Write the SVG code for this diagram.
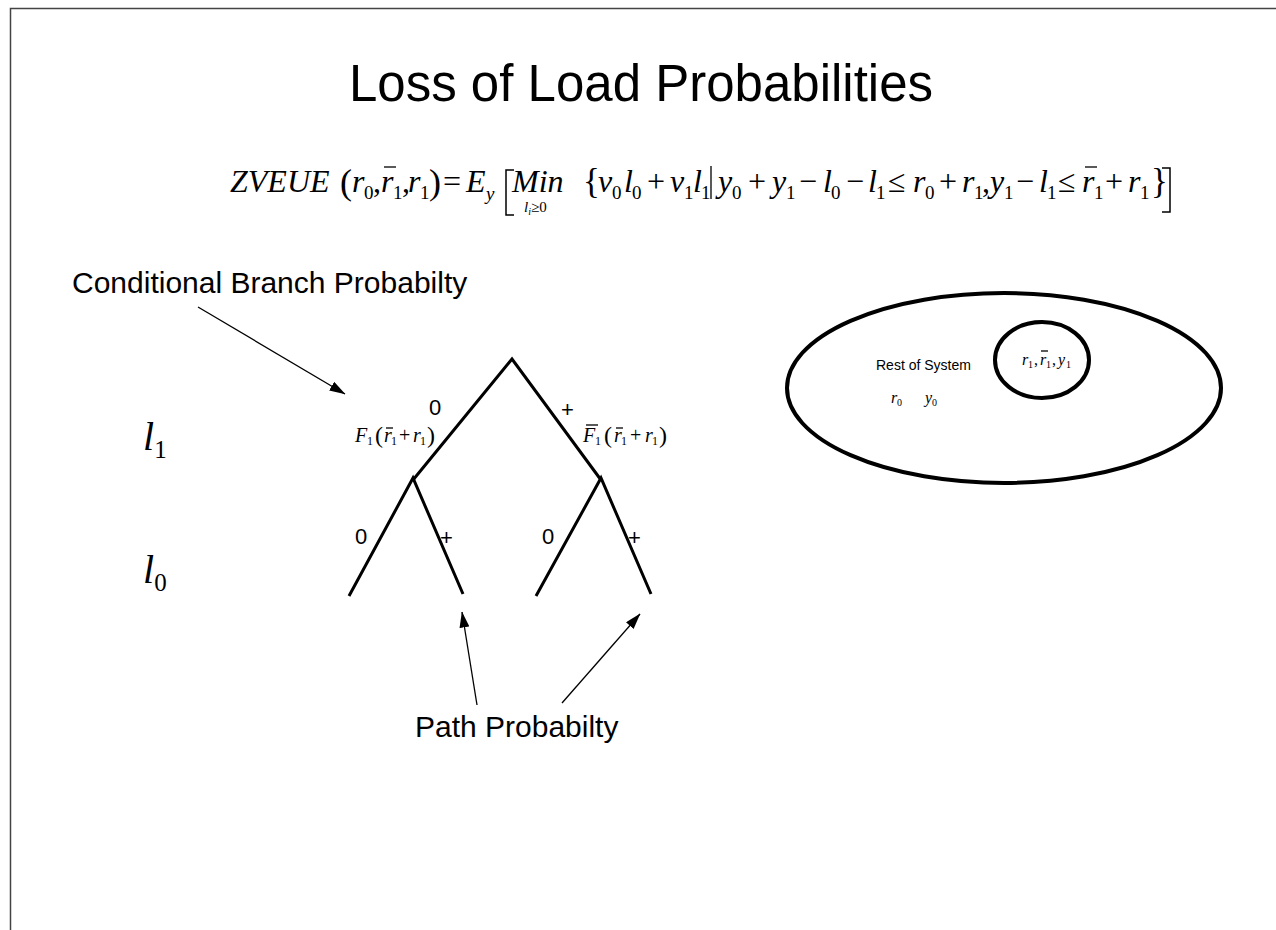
<svg xmlns="http://www.w3.org/2000/svg" width="1276" height="930" viewBox="0 0 1276 930">
<style>
.sans{font-family:"Liberation Sans",Arial,sans-serif;fill:#000}
.ser{font-family:"Liberation Serif","Times New Roman",serif;fill:#000}
.it{font-style:italic}
.tree{stroke:#000;stroke-width:3;fill:none;stroke-linecap:butt}
.conn{stroke:#000;stroke-width:1.3;fill:none}
.bar{stroke:#000;stroke-width:1.3}
</style>
<defs>
<marker id="ah" viewBox="0 0 16 10" refX="15.5" refY="5" markerWidth="16" markerHeight="10" markerUnits="userSpaceOnUse" orient="auto">
<path d="M0,0 L16,5 L0,10 z" fill="#000"/>
</marker>
</defs>
<rect width="1276" height="930" fill="#fff"/>
<path d="M10.5,930 V8.5 H1276" stroke="#444" stroke-width="1.5" fill="none"/>

<g id="title">
<text class="sans" x="641" y="101" font-size="51" text-anchor="middle">Loss of Load Probabilities</text>
</g>

<g id="equation" class="ser" font-size="32">
<text>
<tspan x="230" y="192" class="it">ZVEUE</tspan>
<tspan x="340" y="194" font-size="36">(</tspan>
<tspan x="352" y="192" class="it">r</tspan><tspan x="364" y="199" font-size="19">0</tspan>
<tspan x="373" y="192">,</tspan>
<tspan x="381" y="192" class="it">r</tspan><tspan x="393" y="199" font-size="19">1</tspan>
<tspan x="402" y="192">,</tspan>
<tspan x="408" y="192" class="it">r</tspan><tspan x="420" y="199" font-size="19">1</tspan>
<tspan x="429" y="194" font-size="36">)</tspan>
<tspan x="443" y="192">=</tspan>
<tspan x="466" y="192" class="it">E</tspan><tspan x="486" y="200" font-size="19" class="it">y</tspan>
<tspan x="512" y="192" class="it">Min</tspan>
<tspan x="583" y="193" font-size="35">{</tspan>
<tspan x="598" y="192" class="it">v</tspan><tspan x="612" y="199" font-size="19">0</tspan>
<tspan x="624" y="192" class="it">l</tspan><tspan x="632" y="199" font-size="19">0</tspan>
<tspan x="647" y="192">+</tspan>
<tspan x="670" y="192" class="it">v</tspan><tspan x="684" y="199" font-size="19">1</tspan>
<tspan x="693" y="192" class="it">l</tspan><tspan x="701" y="199" font-size="19">1</tspan>
<tspan x="718" y="192" class="it">y</tspan><tspan x="732" y="199" font-size="19">0</tspan>
<tspan x="748" y="192">+</tspan>
<tspan x="772" y="192" class="it">y</tspan><tspan x="786" y="199" font-size="19">1</tspan>
<tspan x="799" y="192">−</tspan>
<tspan x="823" y="192" class="it">l</tspan><tspan x="831" y="199" font-size="19">0</tspan>
<tspan x="846" y="192">−</tspan>
<tspan x="868" y="192" class="it">l</tspan><tspan x="876" y="199" font-size="19">1</tspan>
<tspan x="888" y="192">≤</tspan>
<tspan x="913" y="192" class="it">r</tspan><tspan x="925" y="199" font-size="19">0</tspan>
<tspan x="939" y="192">+</tspan>
<tspan x="962" y="192" class="it">r</tspan><tspan x="974" y="199" font-size="19">1</tspan>
<tspan x="982" y="192">,</tspan>
<tspan x="990" y="192" class="it">y</tspan><tspan x="1004" y="199" font-size="19">1</tspan>
<tspan x="1016" y="192">−</tspan>
<tspan x="1039" y="192" class="it">l</tspan><tspan x="1047" y="199" font-size="19">1</tspan>
<tspan x="1058" y="192">≤</tspan>
<tspan x="1082" y="192" class="it">r</tspan><tspan x="1094" y="199" font-size="19">1</tspan>
<tspan x="1105" y="192">+</tspan>
<tspan x="1128" y="192" class="it">r</tspan><tspan x="1140" y="199" font-size="19">1</tspan>
<tspan x="1151" y="193" font-size="35">}</tspan>
</text>
<text x="524" y="212" font-size="15"><tspan class="it">l</tspan><tspan font-size="10" dy="3" class="it">i</tspan><tspan dy="-3">≥0</tspan></text>
<line class="bar" x1="384" y1="167" x2="396" y2="167"/>
<line class="bar" x1="1085" y1="167" x2="1097" y2="167"/>
<path d="M711,166 V199" stroke="#000" stroke-width="1.3"/>
<path d="M514,170 H506 V215 H514" stroke="#000" stroke-width="1.5" fill="none"/>
<path d="M1162,168 H1170 V212 H1162" stroke="#000" stroke-width="1.5" fill="none"/>
</g>

<g id="cond-label">
<text class="sans" x="72" y="293" font-size="30">Conditional Branch Probabilty</text>
</g>
<g id="path-label">
<text class="sans" x="415" y="737" font-size="30">Path Probabilty</text>
</g>

<g id="level-labels" class="ser it">
<text x="143" y="450" font-size="40">l<tspan font-size="25" dy="8" font-style="normal">1</tspan></text>
<text x="143" y="583" font-size="40">l<tspan font-size="25" dy="8" font-style="normal">0</tspan></text>
</g>

<g id="tree">
<polyline class="tree" points="413,480 512,359 601,480"/>
<polyline class="tree" points="349,596 413,478 463,594"/>
<polyline class="tree" points="536,596 601,478 651,594"/>
<text class="sans" x="429" y="415" font-size="22">0</text>
<text class="sans" x="561" y="417" font-size="22">+</text>
<text class="sans" x="355" y="544" font-size="22">0</text>
<text class="sans" x="440" y="545" font-size="22">+</text>
<text class="sans" x="542" y="544" font-size="22">0</text>
<text class="sans" x="628" y="545" font-size="22">+</text>
<text class="ser" font-size="20">
<tspan x="355" y="442" class="it">F</tspan><tspan x="367" y="445" font-size="12">1</tspan>
<tspan x="375" y="443" font-size="24">(</tspan>
<tspan x="384" y="442" class="it">r</tspan><tspan x="391" y="445" font-size="12">1</tspan>
<tspan x="399" y="442">+</tspan>
<tspan x="413" y="442" class="it">r</tspan><tspan x="420" y="445" font-size="12">1</tspan>
<tspan x="427" y="443" font-size="24">)</tspan>
</text>
<line class="bar" x1="386" y1="428" x2="393" y2="428" stroke-width="1"/>
<text class="ser" font-size="20">
<tspan x="583" y="442" class="it">F</tspan><tspan x="595" y="445" font-size="12">1</tspan>
<tspan x="604" y="443" font-size="24">(</tspan>
<tspan x="614" y="442" class="it">r</tspan><tspan x="621" y="445" font-size="12">1</tspan>
<tspan x="630" y="442">+</tspan>
<tspan x="645" y="442" class="it">r</tspan><tspan x="652" y="445" font-size="12">1</tspan>
<tspan x="659" y="443" font-size="24">)</tspan>
</text>
<line class="bar" x1="586" y1="425" x2="598" y2="425" stroke-width="1"/>
<line class="bar" x1="616" y1="428" x2="623" y2="428" stroke-width="1"/>
</g>

<g id="system">
<ellipse cx="1004" cy="388" rx="217" ry="95" fill="none" stroke="#000" stroke-width="4"/>
<ellipse cx="1042" cy="360" rx="47" ry="38" fill="none" stroke="#000" stroke-width="4"/>
<text class="sans" x="876" y="370" font-size="14">Rest of System</text>
<text class="ser" font-size="16"><tspan x="891" y="403" class="it">r</tspan><tspan x="897" y="406" font-size="10">0</tspan><tspan x="925" y="403" class="it">y</tspan><tspan x="932" y="406" font-size="10">0</tspan></text>
<text class="ser" font-size="16"><tspan x="1022" y="365" class="it">r</tspan><tspan x="1028" y="368" font-size="10">1</tspan><tspan x="1034" y="365">,</tspan><tspan x="1040" y="365" class="it">r</tspan><tspan x="1046" y="368" font-size="10">1</tspan><tspan x="1052" y="365">,</tspan><tspan x="1058" y="365" class="it">y</tspan><tspan x="1066" y="368" font-size="10">1</tspan></text>
<line class="bar" x1="1041" y1="351" x2="1048" y2="351" stroke-width="1"/>
</g>

<g id="connectors">
<line class="conn" x1="198" y1="307" x2="345" y2="394" marker-end="url(#ah)"/>
<line class="conn" x1="477" y1="705" x2="462" y2="612" marker-end="url(#ah)"/>
<line class="conn" x1="562" y1="703" x2="640" y2="614" marker-end="url(#ah)"/>
</g>
</svg>
